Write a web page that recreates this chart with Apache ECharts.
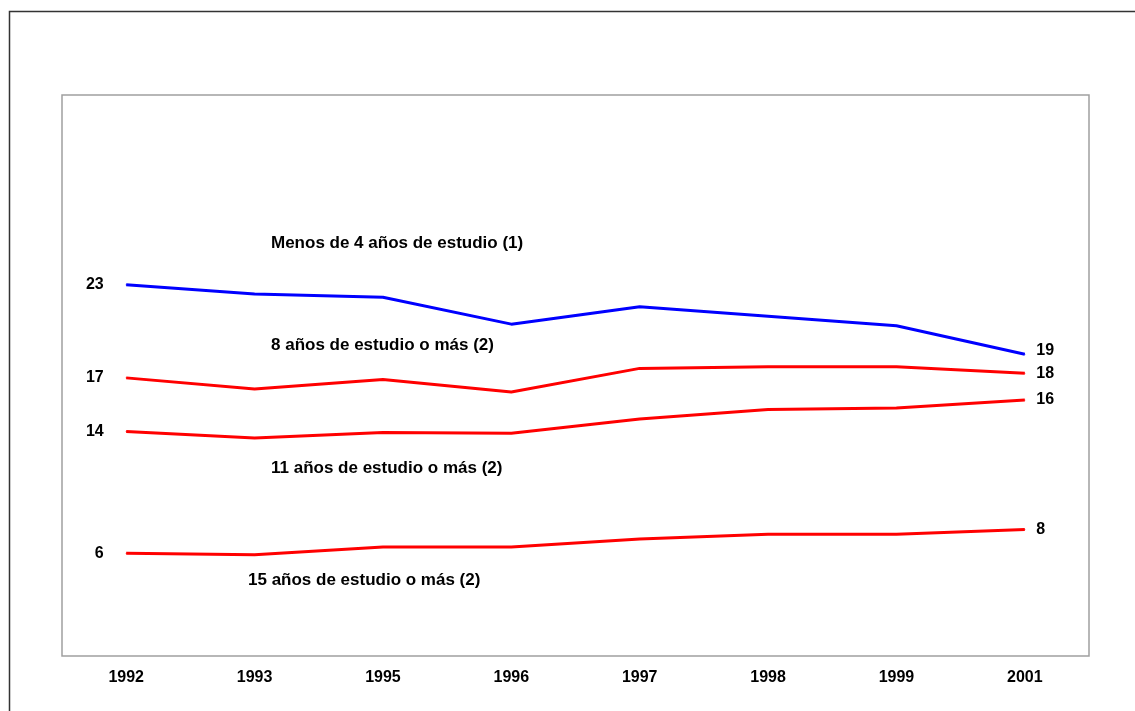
<!DOCTYPE html>
<html>
<head>
<meta charset="utf-8">
<script src="https://cdn.jsdelivr.net/npm/echarts@6/dist/echarts.min.js"></script>
<style>
  html, body { margin: 0; padding: 0; background: #fff; }
  #main { width: 1135px; height: 711px; }
</style>
</head>
<body>
<div id="main"></div>
<script>
var chart = echarts.init(document.getElementById('main'));

// años (eje de categorías)
var years = ['1992', '1993', '1995', '1996', '1997', '1998', '1999', '2001'];

// valores
var menos4 = [23.0, 22.4, 22.2, 20.5, 21.6, 21.0, 20.4, 18.6];
var ocho = [17.1, 16.4, 17.0, 16.2, 17.7, 17.8, 17.8, 17.4];
var once = [13.7, 13.3, 13.65, 13.6, 14.5, 15.1, 15.2, 15.7];
var quince = [6.0, 5.9, 6.4, 6.4, 6.9, 7.2, 7.2, 7.5];

// etiquetas de los extremos (valores redondeados)
var startLabels = ['23', '17', '14', '6'];
var endLabels = ['19', '18', '16', '8'];

var seriesNames = [
    'Menos de 4 años de estudio (1)',
    '8 años de estudio o más (2)',
    '11 años de estudio o más (2)',
    '15 años de estudio o más (2)'
];

var font = '"Liberation Sans", Arial, sans-serif';
var labelStyle = { fontFamily: font, fontWeight: 'bold', fontSize: 16, color: '#000' };

function makeData(values, idx, endOffset) {
    return values.map(function (v, i) {
        if (i === 0) {
            return {
                value: v,
                label: Object.assign({ show: true, position: 'left', distance: 22, formatter: startLabels[idx] }, labelStyle)
            };
        }
        if (i === values.length - 1) {
            return {
                value: v,
                label: Object.assign({ show: true, position: 'right', distance: 11, offset: endOffset, formatter: endLabels[idx] }, labelStyle)
            };
        }
        return v;
    });
}

function lineSeries(name, values, idx, color, endOffset) {
    return {
        name: name,
        type: 'line',
        data: makeData(values, idx, endOffset || [0, 0]),
        symbol: 'circle',
        symbolSize: 1,
        showSymbol: true,
        itemStyle: { color: color },
        label: { show: false },
        silent: true,
        animation: false,
        lineStyle: { color: color, width: 3 }
    };
}

function nameText(text, x, y) {
    return {
        type: 'text',
        x: x,
        y: y,
        style: {
            text: text,
            font: 'bold 17px ' + font,
            fill: '#000',
            verticalAlign: 'middle'
        },
        silent: true
    };
}

var option = {
    backgroundColor: '#fff',
    grid: {
        left: 62,
        top: 95,
        width: 1027,
        height: 561,
        show: true,
        borderColor: '#a0a0a0',
        borderWidth: 1.5
    },
    xAxis: {
        type: 'category',
        data: years,
        boundaryGap: true,
        axisLine: { show: false },
        axisTick: { show: false },
        axisLabel: Object.assign({ margin: 14 }, labelStyle),
        splitLine: { show: false }
    },
    yAxis: {
        type: 'value',
        min: -0.5,
        max: 35,
        show: false
    },
    graphic: [
        {
            type: 'rect',
            left: 7,
            top: 9,
            shape: { width: 1200, height: 800 },
            style: { fill: 'none', stroke: '#333', lineWidth: 1.5 },
            silent: true
        },
        nameText(seriesNames[0], 271, 243),
        nameText(seriesNames[1], 271, 345),
        nameText(seriesNames[2], 271, 468),
        nameText(seriesNames[3], 248, 580)
    ],
    series: [
        lineSeries(seriesNames[0], menos4, 0, '#0000ff', [0, -4]),
        lineSeries(seriesNames[1], ocho, 1, '#ff0000'),
        lineSeries(seriesNames[2], once, 2, '#ff0000'),
        lineSeries(seriesNames[3], quince, 3, '#ff0000')
    ]
};

chart.setOption(option);
</script>
</body>
</html>
